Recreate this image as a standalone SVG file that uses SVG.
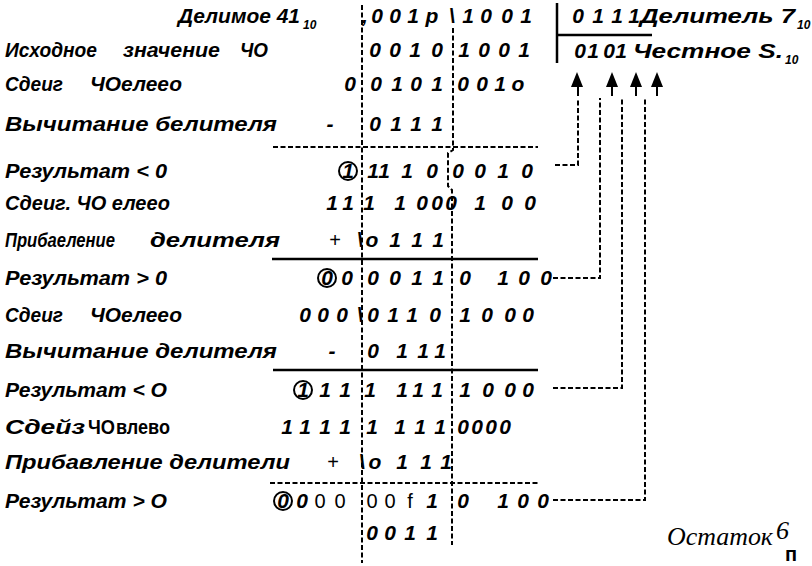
<svg xmlns="http://www.w3.org/2000/svg" width="812" height="566" viewBox="0 0 812 566">
<style>
.l{font-family:"Liberation Sans",Arial,sans-serif;font-weight:bold;font-style:italic;font-size:21px;fill:#000}
.b{font-family:"Liberation Sans",Arial,sans-serif;font-weight:bold;font-style:italic;font-size:20px;fill:#000}
.d{font-family:"Liberation Sans",Arial,sans-serif;font-weight:bold;font-style:italic;font-size:21px;fill:#000;text-anchor:middle}
.r{font-family:"Liberation Sans",Arial,sans-serif;font-weight:normal;font-style:normal;font-size:20px;fill:#000;text-anchor:middle}
.s{font-family:"Liberation Sans",Arial,sans-serif;font-weight:bold;font-style:italic;font-size:12px;fill:#000}
.u{font-family:"Liberation Sans",Arial,sans-serif;font-weight:bold;font-size:20px;fill:#000}
.t{font-family:"Liberation Serif","Times New Roman",serif;font-style:italic;font-size:26px;fill:#000}
.dl{stroke:#000;stroke-width:2;fill:none;stroke-dasharray:5 2.5}
.sl{stroke:#000;stroke-width:2.5;fill:none}
.c{stroke:#000;stroke-width:2;fill:none}
.ah{fill:#000}
</style>
<g id="grid">
<path class="dl" d="M362 5V563"/>
<path class="dl" d="M453 28V150L448 153V186L452 190V545"/>
<path class="sl" d="M557 3V63M557 35H652" stroke-width="3"/>
<path class="dl" d="M273 147H538"/>
<path class="sl" d="M272 259H538"/>
<path class="sl" d="M273 370H538"/>
<path class="dl" d="M270 483H538"/>
</g>
<g id="row1">
<text class="l" x="178" y="23" textLength="122" lengthAdjust="spacingAndGlyphs">Делимое 41</text><text class="s" x="303" y="29">10</text>
<text class="d" x="365 377 395 413 432 452 468 486 507 526" y="23">,001p\1001</text>
<text class="d" x="578 598 617 634" y="23">0111</text>
<text class="l" x="640" y="23" textLength="155" lengthAdjust="spacingAndGlyphs">Делитель 7</text><text class="s" x="797" y="29">10</text>
</g>
<g id="row2">
<text class="b" x="5" y="57" textLength="92" lengthAdjust="spacingAndGlyphs">Исходное</text>
<text class="b" x="123" y="57" textLength="97" lengthAdjust="spacingAndGlyphs">значение</text>
<text class="b" x="240" y="57" textLength="28" lengthAdjust="spacingAndGlyphs">ЧО</text>
<text class="d" x="375 395 415 437 464 484 504 524" y="57">00101001</text>
<text class="d" x="580 593 609 621" y="58">0101</text>
<text class="l" x="633" y="58" textLength="150" lengthAdjust="spacingAndGlyphs">Честное S.</text><text class="s" x="785" y="64">10</text>
</g>
<g id="row3">
<text class="b" x="5" y="91" textLength="58" lengthAdjust="spacingAndGlyphs">Сдеиг</text>
<text class="b" x="90" y="91" textLength="92" lengthAdjust="spacingAndGlyphs">ЧОелеео</text>
<text class="d" x="350 376 397 416 437 463 482 500 518" y="91">00101001o</text>
</g>
<g id="row4">
<text class="l" x="5" y="131" textLength="272" lengthAdjust="spacingAndGlyphs">Вычитание белителя</text>
<text class="d" x="330 375 396 416 437" y="131">-0111</text>
</g>
<g id="row5">
<text class="l" x="5" y="178" textLength="162" lengthAdjust="spacingAndGlyphs">Результат &lt; 0</text>
<circle class="c" cx="348" cy="171" r="9"/>
<text class="d" x="348 373 384 407 432 458 480 503 527" y="178">111100010</text>
</g>
<g id="row6">
<text class="b" x="5" y="210" textLength="165" lengthAdjust="spacingAndGlyphs">Сдеиг. ЧО елеео</text>
<text class="d" x="332 348 369 400 422 437 451 480 507 530" y="210">1111000100</text>
</g>
<g id="row7">
<text class="b" x="5" y="247" font-size="21" textLength="110" lengthAdjust="spacingAndGlyphs">Прибаеление</text>
<text class="l" x="150" y="247" textLength="130" lengthAdjust="spacingAndGlyphs">делителя</text>
<text class="r" x="335" y="247">+</text>
<text class="d" x="360 372 395 417 438" y="247">\o111</text>
</g>
<g id="row8">
<text class="l" x="5" y="285" textLength="162" lengthAdjust="spacingAndGlyphs">Результат &gt; 0</text>
<circle class="c" cx="327" cy="278" r="9"/>
<text class="d" x="327 347 373 395 417 438 465 503 524 546" y="285">0000110100</text>
</g>
<g id="row9">
<text class="b" x="5" y="322" textLength="58" lengthAdjust="spacingAndGlyphs">Сдеиг</text>
<text class="b" x="90" y="322" textLength="92" lengthAdjust="spacingAndGlyphs">ЧОелеео</text>
<text class="d" x="305 323 342 360 373 393 412 435 465 487 510 528" y="322">000\01101000</text>
</g>
<g id="row10">
<text class="l" x="5" y="358" textLength="272" lengthAdjust="spacingAndGlyphs">Вычитание делителя</text>
<text class="d" x="332 373 402 423 440" y="358">-0111</text>
</g>
<g id="row11">
<text class="l" x="5" y="397" textLength="162" lengthAdjust="spacingAndGlyphs">Результат &lt; O</text>
<circle class="c" cx="303" cy="390" r="9"/>
<text class="d" x="303 325 345 370 402 418 437 465 488 510 528" y="397">11111111000</text>
</g>
<g id="row12">
<text class="l" x="5" y="434" textLength="80" lengthAdjust="spacingAndGlyphs">Сдейз</text>
<text class="u" x="88" y="434" textLength="27" lengthAdjust="spacingAndGlyphs">ЧО</text>
<text class="u" x="116" y="434" font-size="16" textLength="54" lengthAdjust="spacingAndGlyphs">влево</text>
<text class="d" x="287 305 325 345 372 400 420 440 463 477 491 505" y="434">111111110000</text>
</g>
<g id="row13">
<text class="l" x="5" y="469" textLength="285" lengthAdjust="spacingAndGlyphs">Прибавление делители</text>
<text class="r" x="333" y="469">+</text>
<text class="d" x="362 375 402 426 446" y="469">\o111</text>
</g>
<g id="row14">
<text class="l" x="5" y="508" textLength="162" lengthAdjust="spacingAndGlyphs">Результат &gt; O</text>
<circle class="c" cx="283" cy="501" r="9"/>
<text class="d" x="283 302" y="508">00</text>
<text class="r" x="320 340 372 390 410" y="508">0000f</text>
<text class="d" x="432 463 503 523 543" y="508">10100</text>
</g>
<g id="row15">
<text class="d" x="372 390 410 432" y="540">0011</text>
<text class="t" x="667" y="545" textLength="106" lengthAdjust="spacingAndGlyphs">Остаток</text>
<text class="t" x="776" y="539" font-size="24">6</text>
<text class="u" x="785" y="561" font-size="13">п</text>
</g>
<g id="connectors">
<path class="dl" d="M555 165H578V98"/>
<path class="dl" d="M553 278H600V98"/>
<path class="dl" d="M553 388H622V98"/>
<path class="dl" d="M553 500H645V98"/>
<path class="c" d="M578 86V96M612 86V96M636 86V96M657 86V96"/>
<polygon class="ah" points="577,72 571,87 583,87"/>
<polygon class="ah" points="612,72 606,87 618,87"/>
<polygon class="ah" points="636,72 630,87 642,87"/>
<polygon class="ah" points="657,72 651,87 663,87"/>
</g>
</svg>
